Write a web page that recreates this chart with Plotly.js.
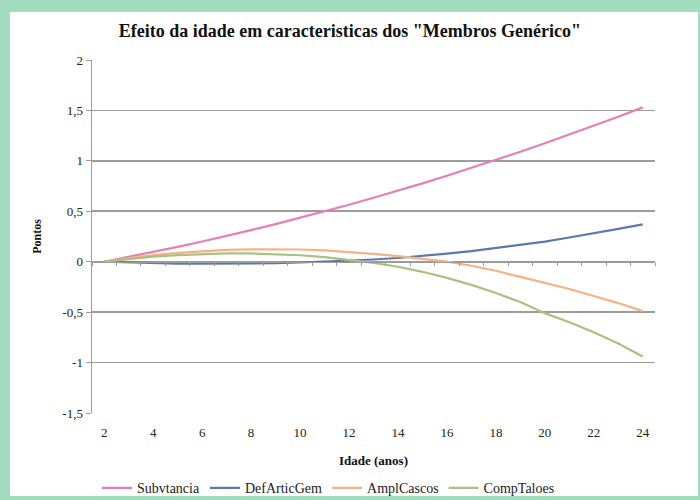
<!DOCTYPE html>
<html>
<head>
<meta charset="utf-8">
<script src="https://cdn.plot.ly/plotly-3.0.1.min.js"></script>
<style>
  html, body { margin:0; padding:0; width:700px; height:500px; background:#a3dcbf; overflow:hidden; }
  #chart { position:absolute; left:10px; top:12px; width:688px; height:484px; background:#ffffff; }
</style>
</head>
<body>
<div id="chart"></div>
<script>
const ages = [2,3,4,5,6,7,8,9,10,11,12,13,14,15,16,17,18,19,20,21,22,23,24];
const subvtancia  = [0,0.047,0.096,0.147,0.2,0.255,0.313,0.373,0.435,0.499,0.565,0.634,0.704,0.777,0.852,0.929,1.009,1.09,1.174,1.26,1.348,1.438,1.53];
const defArticGem = [0,-0.008,-0.014,-0.018,-0.02,-0.02,-0.018,-0.014,-0.008,0,0.01,0.022,0.037,0.055,0.08,0.105,0.135,0.165,0.2,0.24,0.28,0.325,0.37];
const amplCascos  = [0,0.035,0.065,0.088,0.105,0.117,0.123,0.125,0.121,0.112,0.098,0.078,0.055,0.03,0,-0.04,-0.09,-0.15,-0.21,-0.27,-0.34,-0.41,-0.49];
const compTaloes  = [0,0.028,0.05,0.066,0.077,0.082,0.082,0.076,0.064,0.046,0.02,-0.012,-0.05,-0.1,-0.16,-0.23,-0.31,-0.4,-0.51,-0.6,-0.7,-0.81,-0.94];
const seriesNames = ["Subvtancia","DefArticGem","AmplCascos","CompTaloes"];
const seriesColors = ["#e77fb3","#5b79ad","#f5b287","#a9c283"];
const seriesData = [subvtancia, defArticGem, amplCascos, compTaloes];
const yTickVals = [-1.5,-1,-0.5,0,0.5,1,1.5,2];
const yTickText = ["-1,5","-1","-0,5","0","0,5","1","1,5","2"];

const serif = "Liberation Serif";
const traces = seriesData.map((ys,i)=>({
  x: ages, y: ys, type:"scatter", mode:"lines", name: seriesNames[i],
  line:{color: seriesColors[i], width:2.2}
}));
// invisible trace to carry the zero-line category ticks axis
traces.push({x:[ages[0]], y:[0], xaxis:"x2", yaxis:"y", mode:"markers", marker:{opacity:0}, showlegend:false, hoverinfo:"skip"});

const layout = {
  width:688, height:484,
  paper_bgcolor:"#ffffff", plot_bgcolor:"#ffffff",
  margin:{l:82, r:43, t:48, b:83, autoexpand:false},
  separators:",.",
  font:{family:serif, size:12, color:"#222"},
  title:{text:'Efeito da idade em caracteristicas dos "Membros Genérico"', font:{family:serif, size:18, color:"#111", weight:"bold"}, x:0.494, xref:"container", y:0.962, yref:"container", yanchor:"middle"},
  xaxis:{range:[1.5,24.5], tick0:2, dtick:2, showgrid:false, zeroline:false, showline:false, ticks:"", ticklabelstandoff:10,
         tickfont:{family:serif,size:13,color:"#222"},
         title:{text:"Idade (anos)", font:{family:serif,size:13,color:"#111",weight:"bold"}, standoff:16}},
  xaxis2:{range:[1.5,24.5], overlaying:"x", anchor:"free", position:1.5/3.5, side:"bottom", showline:true, linecolor:"#9c9c9c", linewidth:1.5,
          ticks:"outside", ticklen:3, tickcolor:"#9c9c9c", tick0:1.5, dtick:1, showticklabels:false, showgrid:false, zeroline:false},
  yaxis:{range:[-1.5,2], tickvals:yTickVals, ticktext:yTickText, showgrid:true, gridcolor:"#9c9c9c", gridwidth:1.6, zeroline:false,
         showline:true, linecolor:"#9c9c9c", linewidth:1.5, ticks:"outside", ticklen:5, tickcolor:"#9c9c9c",
         tickfont:{family:serif,size:13,color:"#222"},
         title:{text:"Pontos", font:{family:serif,size:12,color:"#111",weight:"bold"}, standoff:18}},
  showlegend:true,
  legend:{orientation:"h", x:0.42, xanchor:"center", y:-0.213, yanchor:"middle", font:{family:serif,size:14,color:"#222"}, itemwidth:30, tracegroupgap:0},
};
Plotly.newPlot("chart", traces, layout, {staticPlot:true});
</script>
</body>
</html>
